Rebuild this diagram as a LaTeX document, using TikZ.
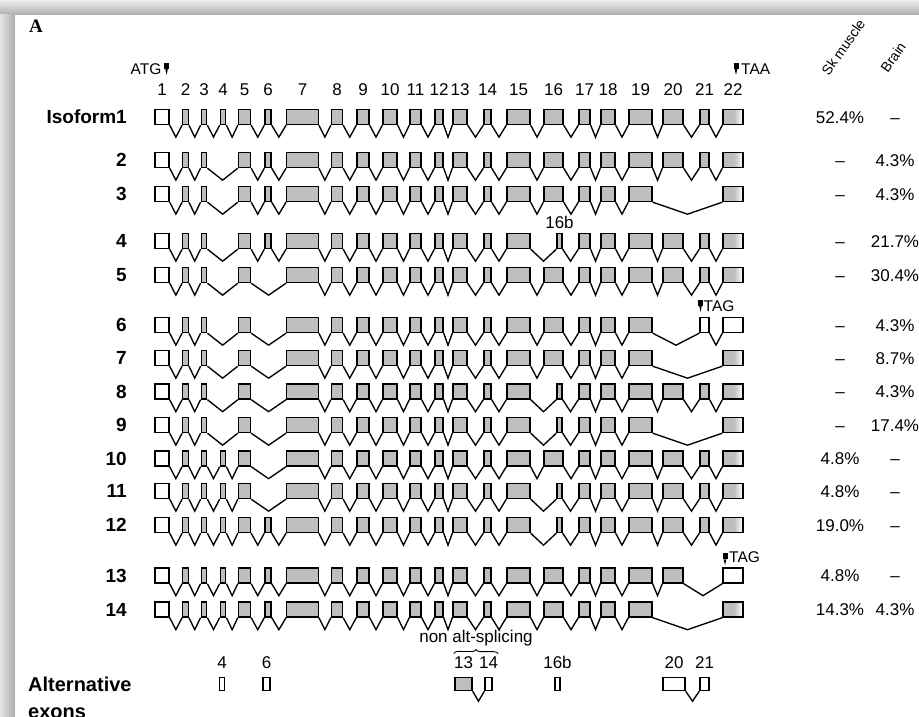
\documentclass[tikz,border=0pt]{standalone}
\usepackage{fontspec}
\setmainfont{Liberation Sans}
\newfontfamily\panelfont{Liberation Serif}
\usetikzlibrary{positioning, calc, decorations.pathreplacing}

\definecolor{exgray}{RGB}{190,190,190}
\pgfdeclarehorizontalshading{utr}{100bp}{color(0bp)=(exgray); color(25bp)=(exgray); color(52bp)=(exgray); color(75bp)=(white); color(100bp)=(white)}

\newcommand\fs[1]{\fontsize{#1}{#1}\selectfont}
% exon geometry: centre x, width
\newcommand\exondef[3]{\expandafter\def\csname exx#1\endcsname{#2}\expandafter\def\csname exw#1\endcsname{#3pt}}
\exondef{1}{162}{14}
\exondef{2}{185.5}{5.5}
\exondef{3}{204}{5.5}
\exondef{4}{223}{5.5}
\exondef{5}{244.5}{12}
\exondef{6}{268}{6}
\exondef{7}{302.5}{31.5}
\exondef{8}{337}{11}
\exondef{9}{363}{12}
\exondef{10}{390}{14}
\exondef{11}{415.5}{11}
\exondef{12}{439}{8}
\exondef{13}{460}{14}
\exondef{14}{487.5}{7}
\exondef{15}{518.5}{23}
\exondef{16}{553.5}{19}
\exondef{16b}{559.5}{5}
\exondef{17}{584.5}{11}
\exondef{18}{608}{14}
\exondef{19}{640.5}{23}
\exondef{20}{673}{20}
\exondef{21}{704.5}{9}
\exondef{22}{733}{20}

\tikzset{
    exon/.style={draw, line width=1.35pt, inner sep=0pt, minimum height=15pt},
    ex/.is choice,
    ex/g/.style={fill=exgray},
    ex/w/.style={fill=white},
    ex/u/.style={shade, shading=utr},
    intron/.style={line width=1.35pt},
    rowlabel/.style={anchor=east, inner sep=0pt, font=\bfseries\fs{19}},
    exnum/.style={inner sep=0pt, font=\fs{17}},
    pct/.style={inner sep=0pt, text height=12pt, text depth=0pt, font=\fs{17}},
    codonlbl/.style={inner sep=0pt, font=\fs{15.5}},
    tissue/.style={inner sep=0pt, anchor=south west, rotate=55, font=\fs{14}},
    codon/.pic={\fill (-2.5,0) rectangle (2.5,6); \fill (-1.3,6) -- (1.3,6) -- (0,12) -- cycle;}
}

% one isoform: row id, y, exons after exon 1
\newcommand\isorow[3]{%
  \node[exon, ex=w, minimum width=14pt] (r#1e1) at (162,#2) {};
  \foreach \e/\fl [remember=\e as \p (initially 1)] in {#3}{
    \edef\exwid{\csname exw\e\endcsname}\edef\excx{\csname exx\e\endcsname}
    \node[exon, ex/.expanded=\fl, minimum width=\exwid] (r#1e\e) at (\excx,#2) {};
    \draw[intron] (r#1e\p.south east) -- ($(r#1e\p.south east)!.5!(r#1e\e.south west)+(0,12)$) -- (r#1e\e.south west);
  }%
}

\begin{document}
\begin{tikzpicture}[x=1pt, y=-1pt]
\useasboundingbox (0,0) rectangle (919,717);
% frame
\fill[gray!25] (0,0) rectangle (919,717);
\shade[top color=gray!12, bottom color=gray!65] (0,0) rectangle (919,15);
\shade[left color=gray!20, right color=gray!65] (0,15) rectangle (15,717);
\fill[white] (15,15) rectangle (919,717);

\node[font=\panelfont\bfseries\fs{19}, inner sep=0pt] (panel) at (36,26) {A};

% isoforms
\isorow{1}{117}{2/g,3/g,4/g,5/g,6/g,7/g,8/g,9/g,10/g,11/g,12/g,13/g,14/g,15/g,16/g,17/g,18/g,19/g,20/g,21/g,22/u}
\isorow{2}{160}{2/g,3/g,5/g,6/g,7/g,8/g,9/g,10/g,11/g,12/g,13/g,14/g,15/g,16/g,17/g,18/g,19/g,20/g,21/g,22/u}
\isorow{3}{194}{2/g,3/g,5/g,6/g,7/g,8/g,9/g,10/g,11/g,12/g,13/g,14/g,15/g,16/g,17/g,18/g,19/g,22/u}
\isorow{4}{241}{2/g,3/g,5/g,6/g,7/g,8/g,9/g,10/g,11/g,12/g,13/g,14/g,15/g,16b/g,17/g,18/g,19/g,20/g,21/g,22/u}
\isorow{5}{275}{2/g,3/g,5/g,7/g,8/g,9/g,10/g,11/g,12/g,13/g,14/g,15/g,16/g,17/g,18/g,19/g,20/g,21/g,22/u}
\isorow{6}{325}{2/g,3/g,5/g,7/g,8/g,9/g,10/g,11/g,12/g,13/g,14/g,15/g,16/g,17/g,18/g,19/g,21/w,22/w}
\isorow{7}{358}{2/g,3/g,5/g,7/g,8/g,9/g,10/g,11/g,12/g,13/g,14/g,15/g,16/g,17/g,18/g,19/g,22/u}
\isorow{8}{391.5}{2/g,3/g,5/g,7/g,8/g,9/g,10/g,11/g,12/g,13/g,14/g,15/g,16b/g,17/g,18/g,19/g,20/g,21/g,22/u}
\isorow{9}{425}{2/g,3/g,5/g,7/g,8/g,9/g,10/g,11/g,12/g,13/g,14/g,15/g,16b/g,17/g,18/g,19/g,22/u}
\isorow{10}{458.5}{2/g,3/g,4/g,5/g,7/g,8/g,9/g,10/g,11/g,12/g,13/g,14/g,15/g,16/g,17/g,18/g,19/g,20/g,21/g,22/u}
\isorow{11}{491}{2/g,3/g,4/g,5/g,7/g,8/g,9/g,10/g,11/g,12/g,13/g,14/g,15/g,16b/g,17/g,18/g,19/g,20/g,21/g,22/u}
\isorow{12}{525}{2/g,3/g,4/g,5/g,6/g,7/g,8/g,9/g,10/g,11/g,12/g,13/g,14/g,15/g,16b/g,17/g,18/g,19/g,20/g,21/g,22/u}
\isorow{13}{575.5}{2/g,3/g,4/g,5/g,6/g,7/g,8/g,9/g,10/g,11/g,12/g,13/g,14/g,15/g,16/g,17/g,18/g,19/g,20/g,22/w}
\isorow{14}{609.5}{2/g,3/g,4/g,5/g,6/g,7/g,8/g,9/g,10/g,11/g,12/g,13/g,14/g,15/g,16/g,17/g,18/g,19/g,22/u}

% exon numbers
\foreach \e in {1,...,22}
  \node[exnum, above=13pt of r1e\e] (h\e) {\e};
\node[exnum, above=4pt of r4e16b] (h16b) {16b};

% start and stop codons
\node[codonlbl] (atg) at (146,69) {ATG};
\pic at ([xshift=5pt, yshift=6pt]atg.east) {codon};
\node[codonlbl, anchor=west] (taa) at (741,69) {TAA};
\pic at ([xshift=-5pt, yshift=6pt]taa.west) {codon};
\coordinate (tag6) at ([xshift=-4pt, yshift=17pt]r6e21.north);
\pic at (tag6) {codon};
\node[codonlbl, anchor=west] (tag6lbl) at ([xshift=3pt, yshift=-6pt]tag6) {TAG};
\coordinate (tag13) at ([xshift=-8pt, yshift=14pt]r13e22.north);
\pic at (tag13) {codon};
\node[codonlbl, anchor=west] (tag13lbl) at ([xshift=4pt, yshift=-4pt]tag13) {TAG};

% tissues
\node[tissue] (sk) at (829,77) {Sk muscle};
\node[tissue] (brain) at (888,74) {Brain};

% row labels and percentages
\coordinate (lblx) at (127,0);
\coordinate (skx) at (840,0);
\coordinate (brx) at (895,0);
\node[rowlabel] (iso1) at (r1e1 -| lblx) {Isoform1};
\foreach \row in {2,...,14}
  \node[rowlabel] (iso\row) at (r\row e1 -| lblx) {\row};
\foreach \row/\sk/\br in {1/52.4\%/\textendash, 2/\textendash/4.3\%, 3/\textendash/4.3\%,
    4/\textendash/21.7\%, 5/\textendash/30.4\%, 6/\textendash/4.3\%, 7/\textendash/8.7\%,
    8/\textendash/4.3\%, 9/\textendash/17.4\%, 10/4.8\%/\textendash, 11/4.8\%/\textendash,
    12/19.0\%/\textendash, 13/4.8\%/\textendash, 14/14.3\%/4.3\%}{
  \node[pct] (sk\row) at (r\row e1 -| skx) {\sk};
  \node[pct] (br\row) at (r\row e1 -| brx) {\br};
}

% alternative exons
\node[rowlabel, anchor=north west, align=left, font=\bfseries\fontsize{20}{27}\selectfont] (altlbl) at (28,677) {Alternative\\exons};
\node[exon, ex=w, minimum width=4.5pt, minimum height=13pt] (a4) at (222,684) {};
\node[exon, ex=w, minimum width=7pt, minimum height=13pt] (a6) at (266.5,684) {};
\node[exon, ex=g, minimum width=17pt, minimum height=13pt] (a13) at (463.5,684) {};
\node[exon, ex=w, minimum width=7pt, minimum height=13pt] (a14) at (488.5,684) {};
\node[exon, ex=w, minimum width=5pt, minimum height=13pt] (a16b) at (557.5,684) {};
\node[exon, ex=w, minimum width=22pt, minimum height=13pt] (a20) at (674,684) {};
\node[exon, ex=w, minimum width=9pt, minimum height=13pt] (a21) at (704.5,684) {};
\draw[intron] (a13.south east) -- ($(a13.south east)!.5!(a14.south west)+(0,10)$) -- (a14.south west);
\draw[intron] (a20.south east) -- ($(a20.south east)!.5!(a21.south west)+(0,10)$) -- (a21.south west);
\foreach \a in {4,6,13,14,16b,20,21}
  \node[exnum, above=8pt of a\a] (l\a) {\a};
\draw[decorate, decoration={brace, amplitude=4pt}, line width=0.9pt] ([yshift=3pt]l13.north west) -- ([yshift=3pt]l14.north east);
\coordinate (bmid) at ($(l13.north west)!.5!(l14.north east)$);
\node[exnum, above=10pt of bmid] (nonalt) {non alt-splicing};
\end{tikzpicture}
\end{document}
